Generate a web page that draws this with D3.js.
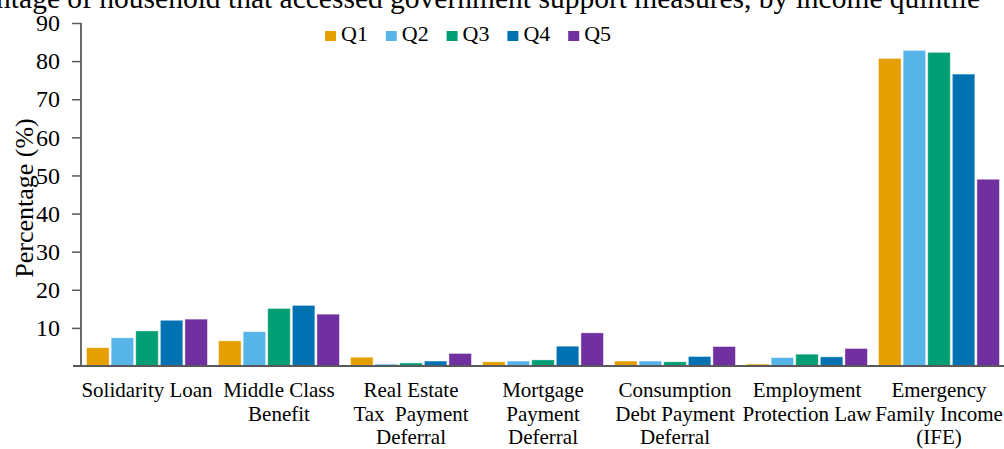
<!DOCTYPE html>
<html>
<head>
<meta charset="utf-8">
<script src="https://cdn.jsdelivr.net/npm/d3@7"></script>
<style>
  html, body { margin: 0; padding: 0; background: #fff; }
  svg { display: block; font-family: "Liberation Serif", "Times New Roman", serif; }
</style>
</head>
<body>
<svg id="chart" width="1004" height="449"></svg>
<script>
// Government support programmes (x-axis categories), one label line per entry
const programmes = [
  ["Solidarity Loan"],
  ["Middle Class", "Benefit"],
  ["Real Estate", "Tax  Payment", "Deferral"],
  ["Mortgage", "Payment", "Deferral"],
  ["Consumption", "Debt Payment", "Deferral"],
  ["Employment", "Protection Law"],
  ["Emergency", "Family Income", "(IFE)"]
];
const quintiles = ["Q1", "Q2", "Q3", "Q4", "Q5"];

// Share of households (%) that accessed each measure, by income quintile
const q1 = [4.8, 6.6, 2.3, 1.1, 1.3, 0.5, 80.7];
const q2 = [7.4, 9.0, 0.5, 1.3, 1.3, 2.2, 82.8];
const q3 = [9.2, 15.1, 0.8, 1.6, 1.1, 3.1, 82.3];
const q4 = [12.0, 15.9, 1.3, 5.2, 2.5, 2.4, 76.6];
const q5 = [12.3, 13.6, 3.3, 8.7, 5.1, 4.6, 49.0];

const yTicks = [10, 20, 30, 40, 50, 60, 70, 80, 90];
const colors = ["#E69F00", "#56B4E9", "#009E73", "#0072B2", "#7030A0"];

const SERIF = '"Liberation Serif", "Times New Roman", serif';
const series = [q1, q2, q3, q4, q5];
const svg = d3.select("#chart");
const plot = { left: 81, right: 1005, top: 23, bottom: 366 };

const x0 = d3.scaleBand()
  .domain(d3.range(programmes.length))
  .range([plot.left, plot.right])
  .paddingInner(0).paddingOuter(0);

const x1 = d3.scaleBand()
  .domain(quintiles)
  .range([0, x0.bandwidth()])
  .paddingInner(0.085).paddingOuter(0.226);

const y = d3.scaleLinear().domain([0, 90]).range([plot.bottom, plot.top]);
const color = d3.scaleOrdinal().domain(quintiles).range(colors);

// Title (runs past the top edge of the frame)
svg.append("text")
  .attr("x", 980).attr("y", 8)
  .attr("text-anchor", "end")
  .style("font-family", SERIF)
  .style("font-size", "29.5px")
  .attr("fill", "#000")
  .text("Percentage of household that accessed government support measures, by income quintile");

// Bars
const groups = svg.append("g").selectAll("g")
  .data(programmes.map((p, i) => i))
  .join("g")
  .attr("transform", i => `translate(${x0(i)},0)`);

groups.selectAll("rect")
  .data(i => quintiles.map((q, k) => ({ q, v: series[k][i] })))
  .join("rect")
  .attr("x", d => x1(d.q))
  .attr("y", d => y(d.v))
  .attr("width", x1.bandwidth())
  .attr("height", d => y(0) - y(d.v))
  .attr("fill", d => color(d.q))
  .attr("stroke", "#fff")
  .attr("stroke-opacity", 0.5)
  .attr("stroke-width", 0.8);

// Y axis
const yAxis = d3.axisLeft(y)
  .tickValues(yTicks)
  .tickSize(9)
  .tickPadding(12)
  .tickFormat(d3.format("d"));

const yg = svg.append("g")
  .attr("transform", `translate(${plot.left},0)`)
  .call(yAxis)
  .attr("font-family", null)
  .attr("font-size", null);
yg.select(".domain").remove();
yg.selectAll(".tick line").attr("stroke", "#595959").attr("stroke-width", 1.5);
yg.selectAll(".tick text")
  .style("font-family", SERIF)
  .style("font-size", "24px")
  .attr("fill", "#000");

svg.append("line")
  .attr("x1", plot.left).attr("x2", plot.left)
  .attr("y1", y(90)).attr("y2", y(0))
  .attr("stroke", "#595959").attr("stroke-width", 1.8);

// X axis baseline
svg.append("line")
  .attr("x1", plot.left - 8).attr("x2", 1004)
  .attr("y1", y(0)).attr("y2", y(0))
  .attr("stroke", "#595959").attr("stroke-width", 2);

// Category labels
const xl = svg.append("g").selectAll("text")
  .data(programmes)
  .join("text")
  .attr("text-anchor", "middle")
  .style("font-family", SERIF)
  .style("font-size", "21px")
  .attr("fill", "#000")
  .attr("transform", (d, i) => `translate(${x0(i) + x0.bandwidth() / 2},397)`);
xl.selectAll("tspan")
  .data(d => d)
  .join("tspan")
  .attr("x", 0)
  .attr("dy", (d, j) => j === 0 ? 0 : 23.5)
  .attr("xml:space", "preserve")
  .style("white-space", "pre")
  .text(d => d);

// Y axis title
svg.append("text")
  .attr("transform", "translate(33,198) rotate(-90)")
  .attr("text-anchor", "middle")
  .style("font-family", SERIF)
  .style("font-size", "26px")
  .attr("fill", "#000")
  .text("Percentage (%)");

// Legend
const legend = svg.append("g").selectAll("g")
  .data(quintiles)
  .join("g")
  .attr("transform", (d, i) => `translate(${325 + i * 60.8},31)`);
legend.append("rect")
  .attr("width", 11).attr("height", 10)
  .attr("fill", d => color(d));
legend.append("text")
  .attr("x", 16).attr("y", 10)
  .style("font-family", SERIF)
  .style("font-size", "22px")
  .attr("fill", "#000")
  .text(d => d);
</script>
</body>
</html>
